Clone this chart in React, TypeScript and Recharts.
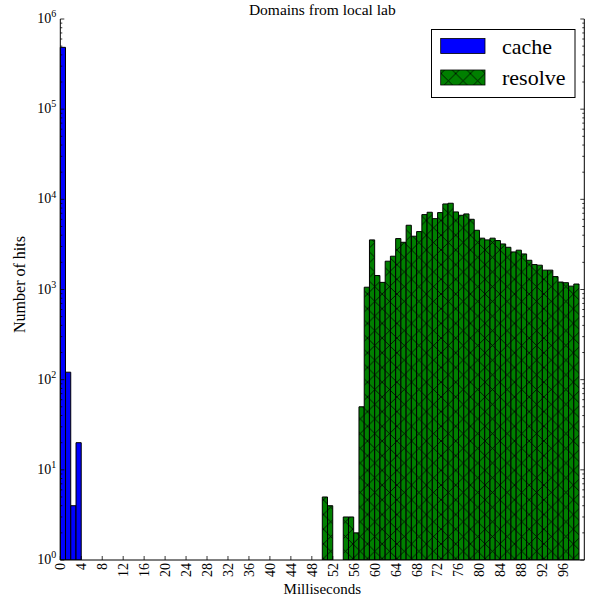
import { Bar, BarChart, Label, XAxis, YAxis } from 'recharts';

// hits per 1 ms bin; cache bins start at 0 ms, resolve bins at 50 ms
const cacheHits = [485000, 121, 4, 20];
const resolveFirstBin = 50;
const resolveHits = [
  5, 4, null, null, 3, 3, 2, 50, 1060, 3550, 1430, 1200, 2060, 2340, 3670, 3340,
  5160, 3900, 4390, 6770, 7190, 6110, 7130, 8890, 9050, 7250, 6660, 6890, 6010,
  4540, 3710, 3550, 3710, 3490, 3200, 2940, 2610, 2730, 2480, 2110, 1890, 1860,
  1640, 1640, 1390, 1210, 1190, 1090, 1150,
];
const binCount = 99;

const xTicks = [0, 4, 8, 12, 16, 20, 24, 28, 32, 36, 40, 44, 48, 52, 56, 60, 64, 68, 72, 76, 80, 84, 88, 92, 96];
const decades = [1, 10, 100, 1000, 10000, 100000, 1000000];
const minorSteps = [2, 3, 4, 5, 6, 7, 8, 9];

const seriesNames = ['cache', 'resolve'];
const BLUE = '#0000ff';
const GREEN = '#008000';
const FONT = '"Liberation Serif", "Times New Roman", serif';

const W = 589;
const H = 601;

const rows = Array.from({ length: binCount }, (_, k) => ({
  ms: k + 0.5,
  cache: cacheHits[k] ?? null,
  resolve: k >= resolveFirstBin ? resolveHits[k - resolveFirstBin] ?? null : null,
}));

const yTicks = [
  ...decades,
  ...decades.slice(0, -1).flatMap((d) => minorSteps.map((m) => m * d)),
].sort((a, b) => a - b);

const isDecade = (v: number) => decades.includes(v);

function LeftTick({ x, y, payload }: any) {
  const v = payload.value;
  const major = isDecade(v);
  return (
    <g>
      <line x1={x} x2={x + (major ? 4 : 2)} y1={y} y2={y} stroke="#000" strokeWidth={0.8} />
      {major && (
        <text x={x - 4} y={y + 4} textAnchor="end" fontFamily={FONT} fontSize={14} fill="#000">
          10
          <tspan dy={-5.7} fontSize={10}>
            {Math.round(Math.log10(v))}
          </tspan>
        </text>
      )}
    </g>
  );
}

function RightTick({ x, y, payload }: any) {
  const major = isDecade(payload.value);
  return <line x1={x} x2={x - (major ? 4 : 2)} y1={y} y2={y} stroke="#000" strokeWidth={0.8} />;
}

function BottomTick({ x, y, payload }: any) {
  return (
    <g>
      <line x1={x} x2={x} y1={y} y2={y - 4} stroke="#000" strokeWidth={0.8} />
      <text
        x={x}
        y={y + 3}
        dy="0.35em"
        textAnchor="end"
        transform={`rotate(-90, ${x}, ${y + 3})`}
        fontFamily={FONT}
        fontSize={14}
        fill="#000"
      >
        {payload.value}
      </text>
    </g>
  );
}

function TopTick({ x, y }: any) {
  return <line x1={x} x2={x} y1={y} y2={y + 4} stroke="#000" strokeWidth={0.8} />;
}

function HatchPattern({ id }: { id: string }) {
  const p = 14.7;
  return (
    <pattern id={id} patternUnits="userSpaceOnUse" width={p} height={p}>
      <rect width={p} height={p} fill={GREEN} />
      <path d={`M0,0L${p},${p}M0,${p}L${p},0`} stroke="#000" strokeWidth={0.8} />
    </pattern>
  );
}

export default function App() {
  return (
    <div style={{ position: 'absolute', left: 0, top: 0, width: W, height: H, background: '#fff' }}>
      <BarChart
        width={W}
        height={H}
        data={rows}
        margin={{ top: 19, right: 0, bottom: 0, left: 0 }}
        barCategoryGap={0}
        barGap={0}
      >
        <defs>
          <HatchPattern id="xhatch" />
        </defs>
        <XAxis
          xAxisId="bottom"
          dataKey="ms"
          type="number"
          domain={[0, 100]}
          ticks={xTicks}
          interval={0}
          height={41}
          tickSize={0}
          tickMargin={0}
          tickLine={false}
          axisLine={{ stroke: '#000', strokeWidth: 1 }}
          tick={<BottomTick />}
        >
          <Label
            content={({ viewBox }: any) => (
              <text
                x={viewBox.x + viewBox.width / 2}
                y={viewBox.y + 34}
                textAnchor="middle"
                fontFamily={FONT}
                fontSize={15}
                fill="#000"
              >
                Milliseconds
              </text>
            )}
          />
        </XAxis>
        <XAxis
          xAxisId="top"
          orientation="top"
          dataKey="ms"
          type="number"
          domain={[0, 100]}
          ticks={xTicks}
          interval={0}
          height={0}
          tickSize={0}
          tickMargin={0}
          tickLine={false}
          axisLine={{ stroke: '#000', strokeWidth: 1 }}
          tick={<TopTick />}
        />
        <YAxis
          yAxisId="left"
          scale="log"
          domain={[1, 1000000]}
          allowDataOverflow
          ticks={yTicks}
          interval={0}
          width={60.3}
          tickSize={0}
          tickMargin={0}
          tickLine={false}
          axisLine={{ stroke: '#000', strokeWidth: 1 }}
          tick={<LeftTick />}
        >
          <Label
            content={({ viewBox }: any) => {
              const cx = viewBox.x + 25;
              const cy = viewBox.y + viewBox.height / 2 - 5;
              return (
                <text
                  x={cx}
                  y={cy}
                  textAnchor="middle"
                  transform={`rotate(-90, ${cx}, ${cy})`}
                  fontFamily={FONT}
                  fontSize={16}
                  fill="#000"
                >
                  Number of hits
                </text>
              );
            }}
          />
        </YAxis>
        <YAxis
          yAxisId="right"
          orientation="right"
          scale="log"
          domain={[1, 1000000]}
          allowDataOverflow
          ticks={yTicks}
          interval={0}
          width={4.7}
          tickSize={0}
          tickMargin={0}
          tickLine={false}
          axisLine={{ stroke: '#000', strokeWidth: 1 }}
          tick={<RightTick />}
        />
        <Bar
          xAxisId="bottom"
          yAxisId="left"
          dataKey="cache"
          name={seriesNames[0]}
          fill={BLUE}
          stroke="#000"
          strokeWidth={1}
          barSize={5.2}
          isAnimationActive={false}
        />
        <Bar
          xAxisId="top"
          yAxisId="left"
          dataKey="resolve"
          name={seriesNames[1]}
          fill="url(#xhatch)"
          stroke="#000"
          strokeWidth={1}
          barSize={5.2}
          isAnimationActive={false}
        />
      </BarChart>

      {/* title and legend drawn over the plot */}
      <svg width={W} height={H} style={{ position: 'absolute', left: 0, top: 0, pointerEvents: 'none' }}>
        <defs>
          <HatchPattern id="xhatch-legend" />
        </defs>
        <text x={322.3} y={15} textAnchor="middle" fontFamily={FONT} fontSize={15.5} fill="#000">
          Domains from local lab
        </text>
        <rect x={431.5} y={29.5} width={143.5} height={68} fill="#fff" stroke="#000" strokeWidth={1} />
        {seriesNames.map((name, i) => {
          const top = 38.5 + i * 31.5;
          return (
            <g key={name}>
              <rect
                x={440.7}
                y={top}
                width={44.3}
                height={15}
                fill={i === 0 ? BLUE : 'url(#xhatch-legend)'}
                stroke="#000"
                strokeWidth={0.8}
              />
              <text x={502} y={top + 15} fontFamily={FONT} fontSize={22} fill="#000">
                {name}
              </text>
            </g>
          );
        })}
      </svg>
    </div>
  );
}
